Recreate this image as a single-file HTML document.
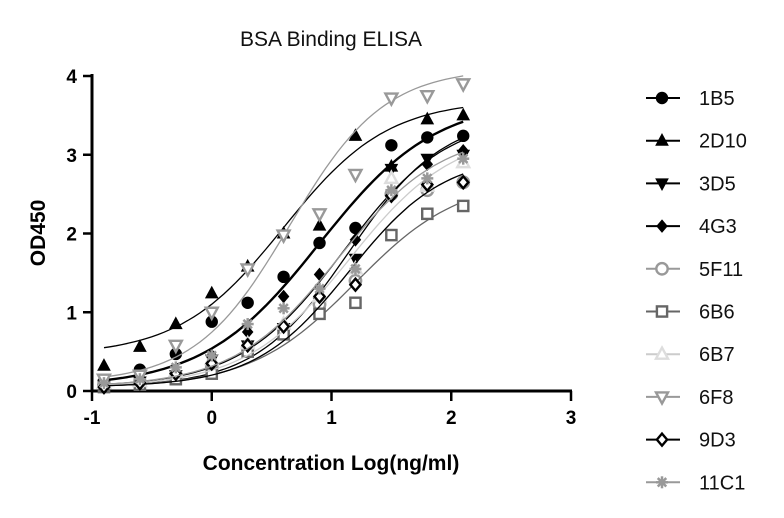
<!DOCTYPE html>
<html><head><meta charset="utf-8"><style>
html,body{margin:0;padding:0;background:#fff;}
svg{display:block;font-family:"Liberation Sans",Arial,sans-serif;}
</style></head><body>
<svg id="chart" width="784" height="518" viewBox="0 0 784 518" xmlns="http://www.w3.org/2000/svg">
<text x="331" y="46" font-size="21" text-anchor="middle" fill="#111">BSA Binding ELISA</text>
<g id="axes"></g>
<g id="plot"></g>
<g id="legend"></g>
</svg>
<script>
const xValues = [-0.9,-0.6,-0.3,0,0.3,0.6,0.9,1.2,1.5,1.8,2.1];
const seriesNames = ["1B5","2D10","3D5","4G3","5F11","6B6","6B7","6F8","9D3","11C1"];
const s1B5  = [0.12,0.27,0.47,0.88,1.12,1.45,1.88,2.07,3.12,3.22,3.24];
const s2D10 = [0.32,0.56,0.85,1.24,1.58,2.0,2.1,3.24,2.85,3.45,3.5];
const s3D5  = [0.08,0.12,0.2,0.4,0.58,0.8,1.12,1.68,2.82,2.95,3.0];
const s4G3  = [0.1,0.15,0.25,0.45,0.75,1.2,1.48,1.92,2.5,2.88,3.05];
const s5F11 = [0.07,0.1,0.2,0.3,0.55,0.8,1.1,1.4,2.5,2.55,2.65];
const s6B6  = [0.05,0.08,0.15,0.22,0.5,0.72,0.98,1.12,1.98,2.25,2.35];
const s6B7  = [0.1,0.12,0.25,0.4,0.6,0.85,1.2,1.55,2.7,2.6,2.9];
const s6F8  = [0.15,0.2,0.58,1.0,1.55,1.98,2.25,2.75,3.72,3.75,3.9];
const s9D3  = [0.05,0.1,0.22,0.35,0.58,0.82,1.2,1.35,2.48,2.62,2.65];
const s11C1 = [0.1,0.15,0.3,0.45,0.85,1.05,1.3,1.55,2.55,2.7,2.95];
// 4PL fit params: bottom, top, logEC50, hill
const fitBottom = [0.05,0.45,0.05,0.05,0.05,0.05,0.05,0.1,0.05,0.05];
const fitTop    = [3.7,3.7,3.5,3.5,3.0,2.7,3.3,4.1,3.0,3.3];
const fitEC50   = [0.9,0.6,1.15,1.1,1.15,1.2,1.15,0.65,1.15,1.05];
const fitHill   = [0.9,1.0,1.1,1.0,1.1,1.0,1.0,1.1,1.1,1.0];
const xTicks = [-1,0,1,2,3];
const yTicks = [0,1,2,3,4];

const seriesData = [s1B5,s2D10,s3D5,s4G3,s5F11,s6B6,s6B7,s6F8,s9D3,s11C1];
const styles = [
 {m:"circle",c:"#000",f:"#000",lw:2.4},
 {m:"tri",c:"#000",f:"#000",lw:1.3},
 {m:"tridown",c:"#000",f:"#000",lw:1.3},
 {m:"diamond",c:"#000",f:"#000",lw:1.3},
 {m:"circle",c:"#999",f:"none",lw:1.3},
 {m:"square",c:"#666",f:"none",lw:1.3},
 {m:"tri",c:"#ddd",f:"none",lw:1.3},
 {m:"tridown",c:"#999",f:"none",lw:1.3},
 {m:"diamond",c:"#000",f:"none",lw:1.3},
 {m:"star",c:"#999",f:"#999",lw:1.3}
];
const NS="http://www.w3.org/2000/svg";
const X0=92,X1=571,Y0=391,Y1=76;
function xs(v){return X0+(v-(-1))/4*(X1-X0);}
function ys(v){return Y0-(v/4)*(Y0-Y1);}
function el(t,a,p){const e=document.createElementNS(NS,t);for(const k in a)e.setAttribute(k,a[k]);p.appendChild(e);return e;}
const axes=document.getElementById('axes'),plot=document.getElementById('plot'),leg=document.getElementById('legend');
let a=el('line',{x1:X0,y1:Y1-2,x2:X0,y2:Y0+1,stroke:'#000','stroke-width':3},axes);

a=el('line',{x1:X0-1,y1:Y0,x2:X1+1,y2:Y0,stroke:'#000','stroke-width':3},axes);

xTicks.forEach(t=>{
 const l=el('line',{x1:xs(t),y1:Y0,x2:xs(t),y2:Y0+10,stroke:'#000','stroke-width':2.5},axes);
 
 const tx=el('text',{x:xs(t),y:Y0+33,'font-size':19,'font-weight':'bold','text-anchor':'middle'},axes);
 tx.textContent=t;
});
yTicks.forEach(t=>{
 const l=el('line',{x1:X0-9,y1:ys(t),x2:X0,y2:ys(t),stroke:'#000','stroke-width':2.5},axes);
 
 const tx=el('text',{x:X0-15,y:ys(t)+7,'font-size':19,'font-weight':'bold','text-anchor':'end'},axes);
 tx.textContent=t;
});
let t=el('text',{x:331,y:470,'font-size':21,'font-weight':'bold','text-anchor':'middle'},axes);
t.textContent='Concentration Log(ng/ml)';
t=el('text',{x:0,y:0,'font-size':21,'font-weight':'bold','text-anchor':'middle',transform:'translate(45,233) rotate(-90)'},axes);
t.textContent='OD450';

function marker(st,cx,cy,p,r){
 r=r||6;let e;const sw=st.f==='none'?2.4:1;
 if(st.m==='circle')e=el('circle',{cx,cy,r:r*0.95,fill:st.f==='none'?'#fff':st.f,stroke:st.c,'stroke-width':sw},p);
 else if(st.m==='square')e=el('rect',{x:cx-r*0.85,y:cy-r*0.85,width:r*1.7,height:r*1.7,fill:'#fff',stroke:st.c,'stroke-width':sw},p);
 else if(st.m==='tri')e=el('polygon',{points:`${cx},${cy-r*1.1} ${cx+r},${cy+r*0.75} ${cx-r},${cy+r*0.75}`,fill:st.f==='none'?'#fff':st.f,stroke:st.c,'stroke-width':sw},p);
 else if(st.m==='tridown')e=el('polygon',{points:`${cx},${cy+r*1.1} ${cx+r},${cy-r*0.75} ${cx-r},${cy-r*0.75}`,fill:st.f==='none'?'#fff':st.f,stroke:st.c,'stroke-width':sw},p);
 else if(st.m==='diamond')e=el('polygon',{points:`${cx},${cy-r} ${cx+r*0.85},${cy} ${cx},${cy+r} ${cx-r*0.85},${cy}`,fill:st.f==='none'?'#fff':st.f,stroke:st.c,'stroke-width':sw},p);
 else {e=el('g',{},p);for(let k=0;k<4;k++){const an=k*Math.PI/4;el('line',{x1:cx-r*Math.cos(an),y1:cy-r*Math.sin(an),x2:cx+r*Math.cos(an),y2:cy+r*Math.sin(an),stroke:st.c,'stroke-width':2.5},e);}}
 return e;
}
seriesData.forEach((vals,i)=>{
 const st=styles[i];
 const g=el('g',{},plot);
 
 let d='';
 for(let k=0;k<=60;k++){const x=xValues[0]+(xValues[xValues.length-1]-xValues[0])*k/60;
  const y=fitBottom[i]+(fitTop[i]-fitBottom[i])/(1+Math.pow(10,(fitEC50[i]-x)*fitHill[i]));
  d+=(k?'L':'M')+xs(x).toFixed(1)+','+ys(y).toFixed(1);}
 const c=el('path',{d,fill:'none',stroke:st.c==='#ddd'?'#ccc':st.c,'stroke-width':st.lw},g);
 
 vals.forEach((v,j)=>{const m=marker(st,xs(xValues[j]),ys(v),g);
  });
});
seriesNames.forEach((n,i)=>{
 const st=styles[i];const y=98+i*42.7;
 const g=el('g',{},leg);
 el('line',{x1:646,y1:y,x2:680,y2:y,stroke:st.c==='#ddd'?'#ccc':st.c,'stroke-width':2},g);
 marker(st,662,y,g,6);
 const tx=el('text',{x:699,y:y+7,'font-size':20,fill:'#111'},g);tx.textContent=n;
});
</script>
</body></html>
